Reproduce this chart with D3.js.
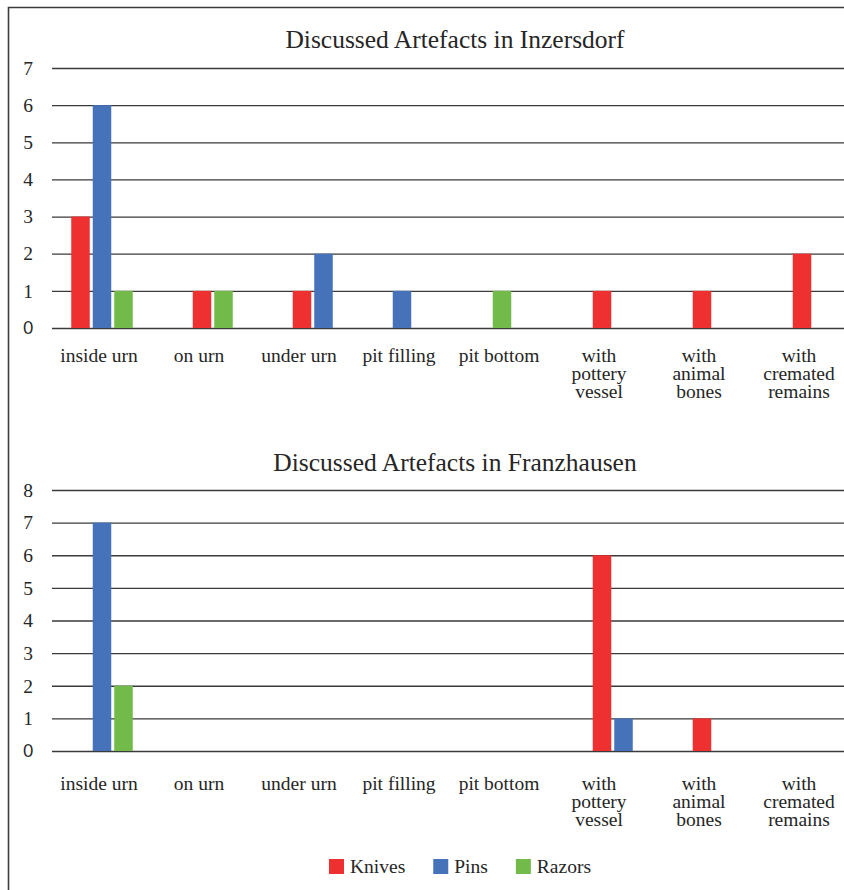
<!DOCTYPE html>
<html>
<head>
<meta charset="utf-8">
<script src="https://cdn.jsdelivr.net/npm/d3@7/dist/d3.min.js"></script>
<style>
  html, body { margin: 0; padding: 0; background: #fff; }
  svg { display: block; }
  text { font-family: "Liberation Serif", "DejaVu Serif", serif; fill: #262626; }
</style>
</head>
<body>
<svg id="chart" width="844" height="890"></svg>
<script>
// Find categories (label lines per category)
const categories = [
  ["inside urn"],
  ["on urn"],
  ["under urn"],
  ["pit filling"],
  ["pit bottom"],
  ["with", "pottery", "vessel"],
  ["with", "animal", "bones"],
  ["with", "cremated", "remains"]
];

const seriesNames = ["Knives", "Pins", "Razors"];
const seriesColors = ["#ee3130", "#4672ba", "#72ba4a"];

// Inzersdorf counts per category
const inzersdorfKnives = [3, 1, 1, 0, 0, 1, 1, 2];
const inzersdorfPins   = [6, 0, 2, 1, 0, 0, 0, 0];
const inzersdorfRazors = [1, 1, 0, 0, 1, 0, 0, 0];

// Franzhausen counts per category
const franzhausenKnives = [0, 0, 0, 0, 0, 6, 1, 0];
const franzhausenPins   = [7, 0, 0, 0, 0, 1, 0, 0];
const franzhausenRazors = [2, 0, 0, 0, 0, 0, 0, 0];

const inzersdorfTicks  = [0, 1, 2, 3, 4, 5, 6, 7];
const franzhausenTicks = [0, 1, 2, 3, 4, 5, 6, 7, 8];

const svg = d3.select("#chart");
const serif = "'Liberation Serif', 'DejaVu Serif', serif";

// outer frame (top and left edges)
svg.append("path")
  .attr("d", "M8.5,890 V7.5 H844")
  .attr("fill", "none")
  .attr("stroke", "#3c3c3c")
  .attr("stroke-width", 1.6);

const x = d3.scaleBand()
  .domain(d3.range(categories.length))
  .range([52, 852]);

const barStep = 21.5;
const barWidth = 18.5;

function drawPanel(opts) {
  const g = svg.append("g");
  const y = d3.scaleLinear().domain([0, d3.max(opts.ticks)]).range([opts.y0, opts.y1]);

  g.append("text")
    .attr("x", 455)
    .attr("y", opts.titleY)
    .attr("text-anchor", "middle")
    .attr("font-family", serif)
    .style("font-size", "25.5px")
    .text(opts.title);

  // value axis with gridlines
  const axis = d3.axisLeft(y)
    .tickValues(opts.ticks)
    .tickFormat(d3.format("d"))
    .tickSize(-(844 - 52))
    .tickPadding(19);
  const ag = g.append("g")
    .attr("transform", "translate(52,0)")
    .call(axis)
    .attr("font-family", serif)
    .attr("font-size", 19.5);
  ag.select(".domain").remove();
  ag.selectAll(".tick line")
    .attr("stroke", "#3a3a3a")
    .attr("stroke-width", 1.3);
  ag.selectAll(".tick text")
    .attr("fill", "#262626")
    .attr("font-family", d => d === 0 ? "Lato, 'Open Sans', sans-serif" : serif)
    .attr("font-size", d => d === 0 ? 17 : 19.5)
    .style("font-family", d => d === 0 ? "Lato, 'Open Sans', sans-serif" : serif);

  // bars: within each category the drawn series sit side by side
  const seriesData = opts.series;
  categories.forEach((cat, ci) => {
    const present = seriesData
      .map((vals, si) => ({ si, v: vals[ci] }))
      .filter(d => d.v > 0);
    const n = present.length;
    const k = Math.floor((n - 1) / 2);
    const c = x(ci) + x.bandwidth() / 2;
    g.selectAll(null)
      .data(present)
      .enter()
      .append("rect")
      .attr("x", (d, i) => c + (i - k) * barStep - barWidth / 2)
      .attr("width", barWidth)
      .attr("y", d => y(d.v))
      .attr("height", d => y(0) - y(d.v))
      .attr("fill", d => seriesColors[d.si]);
  });

  // category labels
  categories.forEach((lines, ci) => {
    const t = g.append("text")
      .attr("text-anchor", "middle")
      .attr("font-family", serif)
      .style("font-size", "19.5px");
    lines.forEach((line, li) => {
      t.append("tspan")
        .attr("x", x(ci) + x.bandwidth() / 2 - 3)
        .attr("y", opts.labelY + li * 18.2)
        .text(line);
    });
  });
}

drawPanel({
  title: "Discussed Artefacts in Inzersdorf",
  titleY: 48,
  y0: 328, y1: 68,
  ticks: inzersdorfTicks,
  labelY: 362,
  series: [inzersdorfKnives, inzersdorfPins, inzersdorfRazors]
});

drawPanel({
  title: "Discussed Artefacts in Franzhausen",
  titleY: 471,
  y0: 751, y1: 490,
  ticks: franzhausenTicks,
  labelY: 790,
  series: [franzhausenKnives, franzhausenPins, franzhausenRazors]
});

// legend
const legend = svg.append("g");
let lx = 329;
seriesNames.forEach((name, i) => {
  legend.append("rect")
    .attr("x", lx).attr("y", 859)
    .attr("width", 15).attr("height", 15)
    .attr("fill", seriesColors[i]);
  const t = legend.append("text")
    .attr("x", lx + 21)
    .attr("y", 873)
    .attr("font-family", serif)
    .style("font-size", "19.5px")
    .text(name);
  lx += 21 + t.node().getComputedTextLength() + 28;
});
</script>
</body>
</html>
